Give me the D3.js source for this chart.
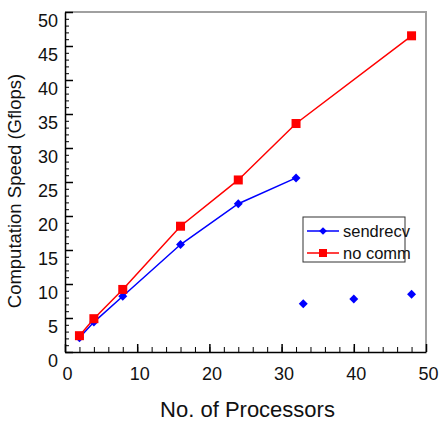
<!DOCTYPE html>
<html>
<head>
  <meta charset="utf-8">
  <title>Computation speed</title>
  <script src="https://d3js.org/d3.v7.min.js"></script>
  <style>
    body { margin: 0; background: #fff; }
    text { font-family: "Liberation Sans", Arial, sans-serif; }
  </style>
</head>
<body>
<script>
var width = 441,
    height = 423;

// data
var procs        = [2, 4, 8, 16, 24, 32, 48];
var noComm       = [2.4, 4.9, 9.2, 18.5, 25.3, 33.6, 46.5];
var sendrecvX    = [2, 4, 8, 16, 24, 32];
var sendrecv     = [2.1, 4.4, 8.2, 15.8, 21.8, 25.6];
var sendrecvExtX = [33, 40, 48];
var sendrecvExt  = [7.1, 7.8, 8.5];
var xTicks = [0, 10, 20, 30, 40, 50];
var yTicks = [0, 5, 10, 15, 20, 25, 30, 35, 40, 45, 50];

var margin = {left: 65, right: 15, top: 12, bottom: 71};

var svg = d3.select('body')
  .append('svg')
  .attr('width', width)
  .attr('height', height);

var x = d3.scaleLinear().domain([0, 50]).range([margin.left, width - margin.right]);
var y = d3.scaleLinear().domain([0, 50]).range([height - margin.bottom, margin.top]);

// grey frame on top and right
svg.append('path')
  .attr('d', 'M' + x(0) + ',' + y(50) + 'H' + x(50) + 'V' + y(0))
  .attr('fill', 'none')
  .attr('stroke', '#a0a0a0')
  .attr('stroke-width', 2);

// minor ticks
var xAxisMinor = d3.axisBottom(x).tickValues(d3.range(0, 51, 2)).tickSize(-5).tickFormat('');
var yAxisMinor = d3.axisLeft(y).tickValues(d3.range(0, 51, 1)).tickSize(-4).tickFormat('');
svg.append('g').attr('transform', 'translate(0,' + y(0) + ')').call(xAxisMinor)
  .call(g => g.select('.domain').remove());
svg.append('g').attr('transform', 'translate(' + x(0) + ',0)').call(yAxisMinor)
  .call(g => g.select('.domain').remove());

// major ticks + labels
var xAxis = d3.axisBottom(x).tickValues(xTicks).tickSizeInner(-8).tickSizeOuter(0).tickPadding(15);
var yAxis = d3.axisLeft(y).tickValues(yTicks).tickSizeInner(-8).tickSizeOuter(0).tickPadding(7);

var gx = svg.append('g').attr('transform', 'translate(0,' + y(0) + ')').call(xAxis);
var gy = svg.append('g').attr('transform', 'translate(' + x(0) + ',0)').call(yAxis);

[gx, gy].forEach(function(g) {
  g.select('.domain').attr('stroke', '#000').attr('stroke-width', 1.5);
  g.selectAll('text').attr('fill', '#111').style('font-size', '18px')
    .style('font-family', '"Liberation Sans", Arial, sans-serif');
  g.selectAll('.tick line').attr('stroke-width', 1.5);
});
gx.selectAll('text').attr('dx', 2);
gy.selectAll('text').attr('dy', '0.83em');

// axis titles
svg.append('text')
  .attr('x', (x(0) + x(50)) / 2 + 2)
  .attr('y', 417)
  .attr('text-anchor', 'middle')
  .style('font-size', '22px')
  .attr('fill', '#111')
  .text('No. of Processors');

svg.append('text')
  .attr('transform', 'translate(21,' + 191 + ') rotate(-90)')
  .attr('text-anchor', 'middle')
  .style('font-size', '18.5px')
  .attr('fill', '#111')
  .text('Computation Speed (Gflops)');

var line = d3.line().x(d => x(d[0])).y(d => y(d[1]));

var redPts = procs.map((p, i) => [p, noComm[i]]);
var bluePts = sendrecvX.map((p, i) => [p, sendrecv[i]]);
var blueExt = sendrecvExtX.map((p, i) => [p, sendrecvExt[i]]);

svg.append('path').datum(bluePts)
  .attr('d', line).attr('fill', 'none').attr('stroke', '#0000ff').attr('stroke-width', 1.5);
svg.append('path').datum(redPts)
  .attr('d', line).attr('fill', 'none').attr('stroke', '#ff0000').attr('stroke-width', 1.5);

svg.append('g').selectAll('path')
  .data(bluePts.concat(blueExt))
  .enter()
  .append('path')
  .attr('transform', d => 'translate(' + x(d[0]) + ',' + y(d[1]) + ') rotate(45)')
  .attr('d', d3.symbol().type(d3.symbolSquare).size(40))
  .attr('fill', '#0000ff');

svg.append('g').selectAll('rect')
  .data(redPts)
  .enter()
  .append('rect')
  .attr('x', d => x(d[0]) - 4.5)
  .attr('y', d => y(d[1]) - 4.5)
  .attr('width', 9)
  .attr('height', 9)
  .attr('fill', '#ff0000');

// legend
var legend = svg.append('g');
legend.append('rect')
  .attr('x', 303).attr('y', 217).attr('width', 102).attr('height', 45)
  .attr('fill', 'none').attr('stroke', '#333').attr('stroke-width', 1);

var legendItems = [
  {name: 'sendrecv', color: '#0000ff', shape: 'diamond'},
  {name: 'no comm', color: '#ff0000', shape: 'square'}
];
legendItems.forEach(function(d, i) {
  var ly = 231 + i * 22;
  legend.append('line')
    .attr('x1', 307).attr('x2', 339).attr('y1', ly).attr('y2', ly)
    .attr('stroke', d.color).attr('stroke-width', 1.5);
  if (d.shape === 'diamond') {
    legend.append('path')
      .attr('transform', 'translate(323,' + ly + ') rotate(45)')
      .attr('d', d3.symbol().type(d3.symbolSquare).size(30))
      .attr('fill', d.color);
  } else {
    legend.append('rect')
      .attr('x', 319).attr('y', ly - 4).attr('width', 8).attr('height', 8)
      .attr('fill', d.color);
  }
  legend.append('text')
    .attr('x', 343).attr('y', ly + 6)
    .style('font-size', '16.5px')
    .attr('fill', '#111')
    .text(d.name);
});
</script>
</body>
</html>
